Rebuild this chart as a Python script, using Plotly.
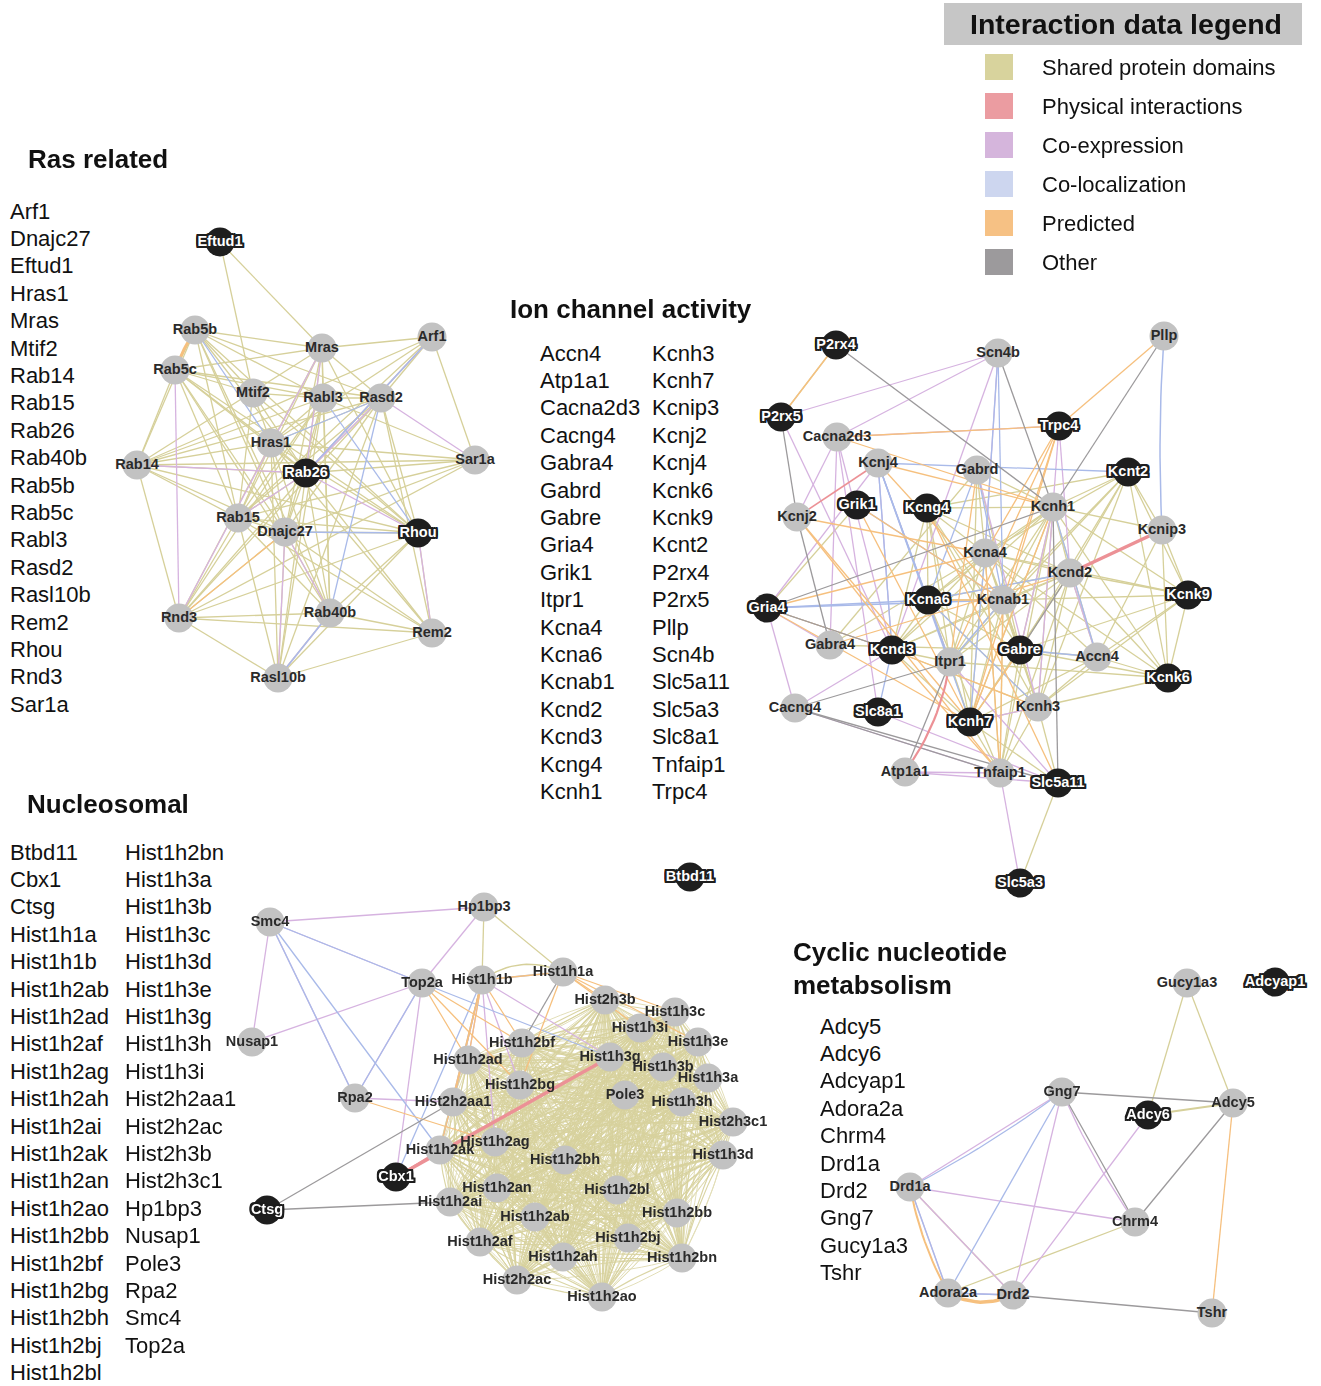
import itertools
import plotly.graph_objects as go

# ---------------------------------------------------------------- legend
edge_types = ["Shared protein domains", "Physical interactions", "Co-expression",
              "Co-localization", "Predicted", "Other"]
swatch_colors = ["#d8d39d", "#eb9ca1", "#d5b5dc", "#cdd6ef", "#f6c184", "#9c9a9c"]
line_colors = {"Shared protein domains": "#d6d09a", "Physical interactions": "#ec9196",
               "Co-expression": "#d6b3e0", "Co-localization": "#a9bae9",
               "Predicted": "#f6c07e", "Other": "#9c9a9c"}

# ---------------------------------------------------------------- Ras related
ras_title = "Ras related"
ras_genes = ["Arf1", "Dnajc27", "Eftud1", "Hras1", "Mras", "Mtif2", "Rab14", "Rab15",
             "Rab26", "Rab40b", "Rab5b", "Rab5c", "Rabl3", "Rasd2", "Rasl10b", "Rem2",
             "Rhou", "Rnd3", "Sar1a"]
ras_nodes = ["Eftud1", "Rab5b", "Rab5c", "Mras", "Arf1", "Mtif2", "Rabl3", "Rasd2", "Hras1",
             "Rab14", "Rab26", "Sar1a", "Rab15", "Dnajc27", "Rhou", "Rnd3", "Rab40b", "Rem2",
             "Rasl10b"]
ras_x = [220, 195, 175, 322, 432, 253, 323, 381, 271, 137, 306, 475, 238, 285, 418, 179, 330, 432, 278]
ras_y = [242, 330, 370, 348, 337, 393, 398, 398, 443, 465, 473, 460, 518, 532, 533, 618, 613, 633, 678]
ras_query = ["Eftud1", "Rab26", "Rhou"]

ras_shared = {
    "Eftud1": ["Mtif2", "Mras"],
    "Rab5b": ["Rab5c", "Mras", "Mtif2", "Rabl3", "Rasd2", "Rab14", "Rab15", "Dnajc27", "Rab26", "Rhou", "Rab40b"],
    "Rab5c": ["Mtif2", "Rabl3", "Rasd2", "Hras1", "Rab14", "Rab15", "Dnajc27", "Rab26", "Rhou", "Rab40b", "Mras"],
    "Mras": ["Arf1", "Rasd2", "Rabl3", "Hras1", "Rab14", "Rab15", "Dnajc27", "Rab26", "Rhou", "Rab40b"],
    "Arf1": ["Sar1a", "Rasd2", "Hras1", "Rab15", "Rab14", "Rab26"],
    "Rasd2": ["Rab14", "Hras1", "Rab26", "Rab15", "Rasl10b", "Rem2", "Rnd3", "Dnajc27", "Rabl3", "Rhou"],
    "Rabl3": ["Rab14", "Hras1", "Rab26", "Rab15", "Dnajc27", "Rasl10b", "Rab40b", "Rnd3", "Sar1a", "Mtif2"],
    "Mtif2": ["Rab15", "Rab26", "Rhou", "Hras1"],
    "Hras1": ["Rab14", "Rab26", "Rab15", "Dnajc27", "Rhou", "Rasl10b", "Rab40b", "Rnd3", "Sar1a", "Rem2"],
    "Rab14": ["Sar1a", "Rab15", "Dnajc27", "Rhou", "Rnd3", "Rab26"],
    "Rab26": ["Sar1a", "Rab15", "Dnajc27", "Rnd3", "Rab40b", "Rasl10b", "Rem2"],
    "Sar1a": ["Rab15", "Dnajc27", "Rnd3"],
    "Rab15": ["Rhou", "Rnd3", "Rab40b", "Rasl10b", "Rem2", "Dnajc27"],
    "Dnajc27": ["Rhou", "Rab40b", "Rasl10b", "Rem2", "Rnd3"],
    "Rhou": ["Rnd3", "Rab40b", "Rasl10b", "Rem2"],
    "Rnd3": ["Rab40b", "Rasl10b", "Rem2"],
    "Rab40b": ["Rasl10b", "Rem2"],
    "Rem2": ["Rasl10b"],
}
ras_coexp = {"Rab5c": ["Rnd3"], "Mras": ["Rnd3", "Rab26"], "Rasd2": ["Sar1a", "Rab26"],
             "Rab14": ["Rab26"], "Rab26": ["Rhou", "Rab15"], "Rhou": ["Rem2"],
             "Dnajc27": ["Rasl10b", "Rab40b"], "Rab40b": ["Rasl10b"], "Arf1": ["Rab26"]}
ras_coloc = {"Rab5b": ["Hras1"], "Arf1": ["Rab26"], "Rasd2": ["Rab40b", "Hras1"],
             "Rabl3": ["Rhou"], "Dnajc27": ["Rhou"], "Rab40b": ["Rasl10b"]}
ras_pred = {"Dnajc27": ["Rnd3"]}
ras_pred_strong = {"Rab5b": ["Rab5c"]}

# ---------------------------------------------------------------- Ion channel activity
ion_title = "Ion channel activity"
ion_genes_a = ["Accn4", "Atp1a1", "Cacna2d3", "Cacng4", "Gabra4", "Gabrd", "Gabre", "Gria4",
               "Grik1", "Itpr1", "Kcna4", "Kcna6", "Kcnab1", "Kcnd2", "Kcnd3", "Kcng4", "Kcnh1"]
ion_genes_b = ["Kcnh3", "Kcnh7", "Kcnip3", "Kcnj2", "Kcnj4", "Kcnk6", "Kcnk9", "Kcnt2", "P2rx4",
               "P2rx5", "Pllp", "Scn4b", "Slc5a11", "Slc5a3", "Slc8a1", "Tnfaip1", "Trpc4"]
ion_nodes = ["P2rx4", "Scn4b", "Pllp", "P2rx5", "Cacna2d3", "Trpc4", "Kcnj4", "Gabrd", "Kcnt2",
             "Grik1", "Kcng4", "Kcnj2", "Kcnh1", "Kcnip3", "Kcna4", "Kcnd2", "Gria4", "Kcna6",
             "Kcnab1", "Kcnk9", "Gabra4", "Kcnd3", "Itpr1", "Gabre", "Accn4", "Kcnk6", "Cacng4",
             "Slc8a1", "Kcnh7", "Kcnh3", "Atp1a1", "Tnfaip1", "Slc5a11", "Slc5a3"]
ion_x = [836, 998, 1164, 781, 837, 1059, 878, 977, 1128, 857, 927, 797, 1053, 1162, 985, 1070,
         767, 928, 1003, 1188, 830, 892, 950, 1020, 1097, 1168, 795, 878, 970, 1038, 905, 1000,
         1058, 1020]
ion_y = [345, 353, 336, 417, 437, 426, 463, 470, 472, 505, 508, 517, 507, 530, 553, 573, 608,
         600, 600, 595, 645, 650, 662, 650, 657, 678, 708, 712, 722, 707, 772, 773, 783, 883]
ion_query = ["P2rx4", "P2rx5", "Trpc4", "Kcnt2", "Grik1", "Kcng4", "Gria4", "Kcna6", "Kcnd3",
             "Gabre", "Kcnk9", "Kcnk6", "Slc8a1", "Kcnh7", "Slc5a11", "Slc5a3"]

ion_shared = {
    "Kcnh1": ["Kcnt2", "Kcnd2", "Kcnip3", "Kcnk9", "Kcnk6", "Accn4", "Kcna4", "Kcnab1", "Kcna6",
              "Kcnd3", "Kcnh3", "Kcnh7", "Gabre", "Itpr1", "Tnfaip1", "Kcng4", "Gabrd"],
    "Kcnt2": ["Kcnip3", "Kcnk9", "Kcnk6", "Kcnd2", "Kcna4", "Kcnab1", "Kcng4", "Gabre", "Kcnh3", "Itpr1"],
    "Kcnd2": ["Kcnk9", "Kcnk6", "Accn4", "Kcna4", "Kcnab1", "Kcna6", "Kcnd3", "Kcnh3", "Kcnh7",
              "Gabre", "Itpr1", "Kcng4", "Tnfaip1"],
    "Kcnip3": ["Kcnk9", "Kcnk6", "Accn4"],
    "Kcnk9": ["Kcnk6", "Accn4", "Kcnab1", "Gabre", "Kcna4", "Kcnh3"],
    "Kcnk6": ["Accn4", "Kcnh3", "Gabre", "Kcna4", "Itpr1"],
    "Accn4": ["Kcnh3", "Gabre", "Kcna4", "Kcnh7"],
    "Kcna4": ["Kcnab1", "Kcna6", "Kcnd3", "Kcng4", "Kcnh3", "Kcnh7", "Itpr1", "Gabre", "Gabrd",
              "Tnfaip1", "Gabra4"],
    "Kcnab1": ["Kcna6", "Kcnd3", "Kcnh3", "Kcnh7", "Gabre", "Itpr1", "Tnfaip1"],
    "Kcna6": ["Kcnd3", "Kcng4", "Kcnh7", "Kcnh3", "Itpr1", "Tnfaip1", "Gabre"],
    "Kcnd3": ["Kcnh7", "Itpr1", "Kcng4", "Kcnh3"],
    "Kcng4": ["Kcnh7", "Kcnh3", "Gabre", "Itpr1"],
    "Gabre": ["Gabrd", "Gabra4", "Kcnh7", "Kcnh3", "Tnfaip1"],
    "Gabrd": ["Gabra4", "Kcnh7"],
    "Kcnh3": ["Kcnh7", "Tnfaip1", "Slc5a11"],
    "Kcnh7": ["Tnfaip1", "Itpr1", "Slc5a11"],
    "Slc5a11": ["Slc5a3"],
    "Gria4": ["Grik1"],
    "P2rx4": ["P2rx5"],
}
ion_pred = {
    "P2rx4": ["P2rx5"], "Cacna2d3": ["Trpc4", "Kcnh1"], "Pllp": ["Trpc4"],
    "Trpc4": ["Kcna4", "Kcnab1", "Itpr1", "Kcnh7"], "Kcnj4": ["Kcnh1", "Kcnab1"],
    "Kcnj2": ["Kcna4", "Kcnh7", "Tnfaip1"], "Grik1": ["Kcnh7", "Kcnab1"],
    "Gria4": ["Kcna4", "Kcnd3", "Kcnh7"], "Gabra4": ["Kcnd2"], "Gabrd": ["Itpr1"],
    "Kcna4": ["Tnfaip1"], "Kcnab1": ["Tnfaip1"], "Kcnd3": ["Tnfaip1", "Kcnh3"],
    "Gabre": ["Kcnh7"], "Kcng4": ["Slc5a11"], "Kcnh1": ["Kcnh7"], "Kcna6": ["Kcnab1"],
}
ion_coexp = {
    "Scn4b": ["P2rx5", "Cacna2d3", "Kcnd3", "Kcna4"],
    "Cacna2d3": ["Trpc4", "Kcnj2", "Gabra4", "Slc8a1", "Kcnd3"],
    "P2rx5": ["Kcnd3"], "Trpc4": ["Kcnh3", "Kcnd2"], "Gria4": ["Cacng4", "Gabra4", "Kcnj4"],
    "Kcnj4": ["Kcnd3", "Itpr1"], "Kcnd2": ["Accn4"], "Cacng4": ["Tnfaip1", "Kcnd3"],
    "Atp1a1": ["Tnfaip1", "Slc5a11"], "Slc8a1": ["Slc5a11"], "Tnfaip1": ["Slc5a3"],
    "Itpr1": ["Slc5a11"], "Kcnh7": ["Kcnh3"], "Gabrd": ["Kcnh3"], "Kcnh1": ["Gabre"],
}
ion_coloc = {
    "Scn4b": ["Kcna4", "Kcnab1"], "Kcnj4": ["Kcnt2", "Kcna6", "Kcnd3", "Kcnh7", "Itpr1"],
    "Gria4": ["Kcna6", "Kcnab1", "Kcnd3"], "Gabrd": ["Kcna6", "Kcnab1"], "Gabre": ["Accn4"],
    "Kcnd3": ["Slc8a1"], "Kcna6": ["Kcnh3"], "Itpr1": ["Kcnab1"], "Kcnh1": ["Accn4"],
    "Kcnd2": ["Kcna6"], "Grik1": ["Kcnab1"], "Kcna4": ["Kcnh7"],
}
ion_pllp_coloc = {"Pllp": ["Kcnip3"]}
ion_other = {
    "P2rx4": ["Kcnh1"], "P2rx5": ["Kcnj2"], "Kcnj2": ["Gabra4"], "Scn4b": ["Kcnh1"],
    "Pllp": ["Kcnh1"], "Kcnh1": ["Slc5a11"], "Kcnd2": ["Gabre"], "Gria4": ["Kcnh1", "Kcnd3"],
    "Cacng4": ["Itpr1", "Slc5a11", "Tnfaip1"], "Itpr1": ["Atp1a1"],
}
ion_physical = {"Kcnj4": ["Kcnj2"]}
ion_physical_strong = {"Kcnd2": ["Kcnip3"]}
ion_physical_arc = {"Itpr1": ["Atp1a1"]}

# ---------------------------------------------------------------- Nucleosomal
nuc_title = "Nucleosomal"
nuc_genes_a = ["Btbd11", "Cbx1", "Ctsg", "Hist1h1a", "Hist1h1b", "Hist1h2ab", "Hist1h2ad",
               "Hist1h2af", "Hist1h2ag", "Hist1h2ah", "Hist1h2ai", "Hist1h2ak", "Hist1h2an",
               "Hist1h2ao", "Hist1h2bb", "Hist1h2bf", "Hist1h2bg", "Hist1h2bh", "Hist1h2bj",
               "Hist1h2bl"]
nuc_genes_b = ["Hist1h2bn", "Hist1h3a", "Hist1h3b", "Hist1h3c", "Hist1h3d", "Hist1h3e",
               "Hist1h3g", "Hist1h3h", "Hist1h3i", "Hist2h2aa1", "Hist2h2ac", "Hist2h3b",
               "Hist2h3c1", "Hp1bp3", "Nusap1", "Pole3", "Rpa2", "Smc4", "Top2a"]
nuc_nodes = ["Btbd11", "Smc4", "Hp1bp3", "Top2a", "Hist1h1b", "Nusap1", "Rpa2", "Cbx1", "Ctsg",
             "Hist1h1a", "Hist1h2ad", "Hist2h2aa1", "Hist1h2ak", "Hist1h2ai", "Hist2h3b",
             "Hist1h3c", "Hist1h3i", "Hist1h3e", "Hist1h2bf", "Hist1h3g", "Hist1h3b", "Hist1h3a",
             "Hist1h2bg", "Pole3", "Hist1h3h", "Hist2h3c1", "Hist1h2ag", "Hist1h3d", "Hist1h2bh",
             "Hist1h2an", "Hist1h2bl", "Hist1h2bb", "Hist1h2ab", "Hist1h2af", "Hist1h2bj",
             "Hist1h2bn", "Hist1h2ah", "Hist2h2ac", "Hist1h2ao"]
nuc_x = [690, 270, 484, 422, 482, 252, 355, 396, 267, 563, 468, 453, 440, 450, 605, 675, 640,
         698, 522, 610, 663, 708, 520, 625, 682, 733, 495, 723, 565, 497, 617, 677, 535, 480,
         628, 682, 563, 517, 602]
nuc_y = [877, 922, 907, 983, 980, 1042, 1098, 1177, 1210, 972, 1060, 1102, 1150, 1202, 1000,
         1012, 1028, 1042, 1043, 1057, 1067, 1078, 1085, 1095, 1102, 1122, 1142, 1155, 1160,
         1188, 1190, 1213, 1217, 1242, 1238, 1258, 1257, 1280, 1297]
nuc_query = ["Btbd11", "Cbx1", "Ctsg"]
histone_core = ["Hist1h2ad", "Hist2h2aa1", "Hist1h2ak", "Hist1h2ai", "Hist2h3b", "Hist1h3c",
                "Hist1h3i", "Hist1h3e", "Hist1h2bf", "Hist1h3g", "Hist1h3b", "Hist1h3a",
                "Hist1h2bg", "Pole3", "Hist1h3h", "Hist2h3c1", "Hist1h2ag", "Hist1h3d",
                "Hist1h2bh", "Hist1h2an", "Hist1h2bl", "Hist1h2bb", "Hist1h2ab", "Hist1h2af",
                "Hist1h2bj", "Hist1h2bn", "Hist1h2ah", "Hist2h2ac", "Hist1h2ao"]
nuc_shared = {"Hp1bp3": ["Hist1h1b", "Hist1h1a"]}
nuc_shared_arc = {"Hist1h1b": ["Hist1h1a"]}
nuc_coexp = {
    "Smc4": ["Hp1bp3", "Nusap1", "Top2a", "Rpa2"], "Top2a": ["Nusap1", "Hp1bp3", "Rpa2", "Cbx1"],
    "Rpa2": ["Hist2h2aa1"],
    "Hist1h1b": ["Hist1h2ad", "Hist2h2aa1", "Hist1h2bg", "Hist1h3g", "Hist1h2ag"],
}
nuc_coloc = {
    "Smc4": ["Top2a", "Rpa2", "Hist1h2ak"], "Top2a": ["Rpa2", "Hist1h3g"],
    "Hist1h1b": ["Hist1h2ak", "Cbx1", "Hist2h2aa1", "Hist1h1a"],
}
nuc_pred = {
    "Top2a": ["Hist1h2ad", "Hist1h2bf", "Hist1h2bg"],
    "Hist1h1b": ["Hist1h1a", "Hist1h2ad", "Hist1h2bf", "Hist2h2aa1", "Hist1h2ak"],
    "Hist1h1a": ["Hist2h3b", "Hist1h3c", "Hist1h3i", "Hist1h3e", "Hist1h2bg"],
    "Rpa2": ["Hist1h2ag"],
}
nuc_other = {"Ctsg": ["Hist1h2ai", "Hist2h2aa1"], "Hist1h1a": ["Hist1h2bf"]}
nuc_physical = {"Cbx1": ["Hist1h2ak"]}
nuc_physical_strong = {"Cbx1": ["Hist1h3g"]}

# ---------------------------------------------------------------- Cyclic nucleotide metabolism
cyc_title = ["Cyclic nucleotide", "metabsolism"]
cyc_genes = ["Adcy5", "Adcy6", "Adcyap1", "Adora2a", "Chrm4", "Drd1a", "Drd2", "Gng7",
             "Gucy1a3", "Tshr"]
cyc_nodes = ["Gucy1a3", "Adcyap1", "Gng7", "Adcy5", "Adcy6", "Drd1a", "Chrm4", "Adora2a",
             "Drd2", "Tshr"]
cyc_x = [1187, 1275, 1062, 1233, 1148, 910, 1135, 948, 1013, 1212]
cyc_y = [983, 982, 1092, 1103, 1115, 1187, 1222, 1293, 1295, 1313]
cyc_query = ["Adcyap1", "Adcy6"]
cyc_shared = {"Gucy1a3": ["Adcy6", "Adcy5"], "Drd1a": ["Drd2"], "Adora2a": ["Chrm4"]}
cyc_shared_strong = {"Adcy6": ["Adcy5"]}
cyc_other = {"Gng7": ["Adcy5", "Chrm4"], "Adcy5": ["Chrm4"], "Drd2": ["Tshr"]}
cyc_pred = {"Adcy5": ["Tshr"]}
cyc_pred_arc = {"Drd1a": ["Adora2a"]}
cyc_pred_strong_arc = {"Adora2a": ["Drd2"]}
cyc_coexp = {"Gng7": ["Drd1a", "Drd2"], "Adcy6": ["Drd2"], "Drd1a": ["Chrm4", "Drd2", "Adora2a"],
             "Adora2a": ["Drd2"]}
cyc_coexp_arc = {"Gng7": ["Chrm4"]}
cyc_coloc = {"Gng7": ["Adora2a"], "Drd1a": ["Adora2a"], "Adora2a": ["Drd2"]}
cyc_coloc_arc = {"Gng7": ["Drd1a"]}

# ---------------------------------------------------------------- geometry helpers
pos = {}
for names, xs, ys in [(ras_nodes, ras_x, ras_y), (ion_nodes, ion_x, ion_y),
                      (nuc_nodes, nuc_x, nuc_y), (cyc_nodes, cyc_x, cyc_y)]:
    for n, x, y in zip(names, xs, ys):
        pos[n] = (x, y)


def pairs(adj):
    return [(a, b) for a, nbrs in adj.items() for b in nbrs]


def bezier(a, b, bend, steps=16):
    (x0, y0), (x1, y1) = pos[a], pos[b]
    if bend == 0:
        return [x0, x1], [y0, y1]
    cx = (x0 + x1) / 2 - (y1 - y0) * bend
    cy = (y0 + y1) / 2 + (x1 - x0) * bend
    xs, ys = [], []
    for i in range(steps + 1):
        t = i / steps
        xs.append((1 - t) ** 2 * x0 + 2 * (1 - t) * t * cx + t * t * x1)
        ys.append((1 - t) ** 2 * y0 + 2 * (1 - t) * t * cy + t * t * y1)
    return xs, ys


fig = go.Figure()


def add_edges(edge_list, kind, width=1.3, bend=0.0, opacity=1.0):
    xs, ys = [], []
    for a, b in edge_list:
        ex, ey = bezier(a, b, bend)
        xs += ex + [None]
        ys += ey + [None]
    fig.add_trace(go.Scatter(x=xs, y=ys, mode="lines", hoverinfo="skip", showlegend=False,
                             opacity=opacity,
                             line=dict(color=line_colors[kind], width=width)))


SH, PH, CE, CL, PR, OT = edge_types

# histone core: every histone pair shares the histone-fold domain
histone_pairs = list(itertools.combinations(histone_core, 2))
add_edges(histone_pairs, SH, width=1.15, bend=0.06, opacity=0.9)
add_edges(histone_pairs, SH, width=1.0, bend=-0.06, opacity=0.7)

for adj in [ras_shared, ion_shared, nuc_shared, cyc_shared]:
    add_edges(pairs(adj), SH, width=1.3)
add_edges(pairs(nuc_shared_arc), SH, width=1.5, bend=-0.28)
add_edges(pairs(cyc_shared_strong), SH, width=2.2)

for adj in [ras_coexp, ion_coexp, nuc_coexp, cyc_coexp]:
    add_edges(pairs(adj), CE, width=1.3)
add_edges(pairs(cyc_coexp_arc), CE, width=1.3, bend=0.05)

for adj in [ras_coloc, ion_coloc, nuc_coloc, cyc_coloc]:
    add_edges(pairs(adj), CL, width=1.3)
add_edges(pairs(ion_pllp_coloc), CL, width=1.5, bend=0.03)
add_edges(pairs(cyc_coloc_arc), CL, width=1.3, bend=-0.04)

for adj in [ras_pred, ion_pred, nuc_pred, cyc_pred]:
    add_edges(pairs(adj), PR, width=1.3)
add_edges(pairs(ras_pred_strong), PR, width=3.0, bend=0.05)
add_edges(pairs(cyc_pred_arc), PR, width=2.0, bend=0.08)
add_edges(pairs(cyc_pred_strong_arc), PR, width=3.5, bend=0.25)

for adj in [ion_other, nuc_other, cyc_other]:
    add_edges(pairs(adj), OT, width=1.3)

for adj in [ion_physical, nuc_physical]:
    add_edges(pairs(adj), PH, width=1.6)
add_edges(pairs(ion_physical_strong) + pairs(nuc_physical_strong), PH, width=3.5)
add_edges(pairs(ion_physical_arc), PH, width=2.2, bend=-0.12)

# ---------------------------------------------------------------- nodes
label_font = "Liberation Sans, Arial, sans-serif"
halo = ", ".join(f"{dx}px {dy}px 0px #1e1e1e" for dx, dy in
                 [(1, 0), (-1, 0), (0, 1), (0, -1), (2, 0), (-2, 0), (0, 2), (0, -2),
                  (1, 1), (-1, -1), (1, -1), (-1, 1), (2, 1), (-2, 1), (2, -1), (-2, -1),
                  (2, 2), (-2, -2), (2, -2), (-2, 2)])

for names, query in [(ras_nodes, ras_query), (ion_nodes, ion_query),
                     (nuc_nodes, nuc_query), (cyc_nodes, cyc_query)]:
    plain = [n for n in names if n not in query]
    fig.add_trace(go.Scatter(
        x=[pos[n][0] for n in plain], y=[pos[n][1] for n in plain], text=plain,
        mode="markers+text", textposition="middle center", hoverinfo="text", showlegend=False,
        marker=dict(size=29, color="#c2c2c2", line=dict(width=0)),
        textfont=dict(family=label_font, size=14.5, color="#2a2a2a", weight="bold")))
    fig.add_trace(go.Scatter(
        x=[pos[n][0] for n in query], y=[pos[n][1] for n in query], text=query,
        mode="markers+text", textposition="middle center", hoverinfo="text", showlegend=False,
        marker=dict(size=29, color="#1e1e1e", line=dict(width=0)),
        textfont=dict(family=label_font, size=14.5, color="white", weight="bold", shadow=halo)))

# ---------------------------------------------------------------- gene lists
ROW = 27.4
for col_x, y0, genes in [(10, 213, ras_genes), (540, 355, ion_genes_a), (652, 355, ion_genes_b),
                         (10, 854, nuc_genes_a), (125, 854, nuc_genes_b),
                         (820, 1028, cyc_genes)]:
    fig.add_trace(go.Scatter(
        x=[col_x] * len(genes), y=[y0 + i * ROW for i in range(len(genes))], text=genes,
        mode="text", textposition="middle right", hoverinfo="skip", showlegend=False,
        cliponaxis=False, textfont=dict(family=label_font, size=22, color="#111111")))

# ---------------------------------------------------------------- titles and legend
annotations = []
shapes = []


def text(x, y, s, size, bold=False, anchor="left"):
    annotations.append(dict(x=x, y=y, xref="x", yref="y", text=f"<b>{s}</b>" if bold else s,
                            showarrow=False, xanchor=anchor, yanchor="middle",
                            font=dict(family=label_font, size=size, color="#111111")))


text(26, 159, ras_title, 26, bold=True)
text(508, 309, ion_title, 26, bold=True)
text(25, 804, nuc_title, 26, bold=True)
text(791, 952, cyc_title[0], 26, bold=True)
text(791, 985, cyc_title[1], 26, bold=True)

shapes.append(dict(type="rect", xref="x", yref="y", x0=944, x1=1302, y0=3, y1=45,
                   fillcolor="#c6c6c6", line=dict(width=0), layer="below"))
text(1126, 24, "Interaction data legend", 28.5, bold=True, anchor="center")
LEG_ROW = 39
for i, (lab, col) in enumerate(zip(edge_types, swatch_colors)):
    yc = 67 + i * LEG_ROW
    shapes.append(dict(type="rect", xref="x", yref="y", x0=985, x1=1013, y0=yc - 13, y1=yc + 13,
                       fillcolor=col, line=dict(width=0)))
    text(1040, yc, lab, 22)

fig.update_layout(
    width=1321, height=1386, margin=dict(l=0, r=0, t=0, b=0),
    paper_bgcolor="white", plot_bgcolor="white",
    xaxis=dict(range=[0, 1321], visible=False, fixedrange=True),
    yaxis=dict(range=[1386, 0], visible=False, fixedrange=True),
    annotations=annotations, shapes=shapes, showlegend=False,
)

fig.write_html("out.html")
